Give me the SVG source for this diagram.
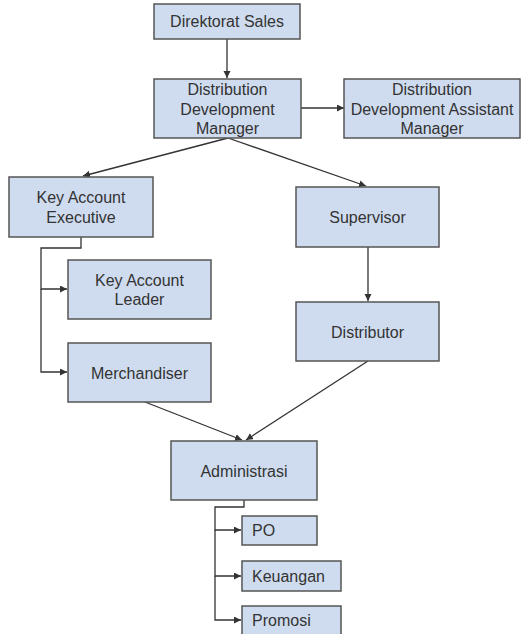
<svg xmlns="http://www.w3.org/2000/svg" width="530" height="634" viewBox="0 0 530 634">
<style>
.box{fill:#cfdcef;stroke:#555;stroke-width:1.5}
.t{font-family:"Liberation Sans",Arial,sans-serif;font-size:16px;fill:#333;text-anchor:middle}
.tl{font-family:"Liberation Sans",Arial,sans-serif;font-size:16px;fill:#333;text-anchor:start}
.c{fill:none;stroke:#333;stroke-width:1.3;marker-end:url(#ah)}
</style>
<defs>
<marker id="ah" markerUnits="userSpaceOnUse" markerWidth="8" markerHeight="8" refX="7" refY="3.5" orient="auto">
<path d="M0,0 L7,3.5 L0,7 z" fill="#333"/>
</marker>
</defs>
<rect width="530" height="634" fill="#fff"/>
<g id="connectors">
<path class="c" d="M227,39 V78"/>
<path class="c" d="M301,108 H344"/>
<path class="c" d="M228,138 L83,176"/>
<path class="c" d="M228,138 L366,186"/>
<path class="c" d="M81,237 V248 H41 V289 H67"/>
<path class="c" d="M41,289 V372 H67"/>
<path class="c" d="M368,247 V301"/>
<path class="c" d="M368,361 L246,440"/>
<path class="c" d="M145,402 L242,440"/>
<path class="c" d="M244,500 V507 H215 V530 H241"/>
<path class="c" d="M215,530 V576 H241"/>
<path class="c" d="M215,576 V620 H241"/>
</g>
<g id="direktorat-sales"><rect class="box" x="154" y="4" width="146" height="35"/><text class="t" x="227" y="27">Direktorat Sales</text></g>
<g id="ddm"><rect class="box" x="154" y="79" width="147" height="59"/><text class="t" x="227.5" y="95">Distribution</text><text class="t" x="227.5" y="114.5">Development</text><text class="t" x="227.5" y="134">Manager</text></g>
<g id="ddam"><rect class="box" x="344" y="79" width="176" height="59"/><text class="t" x="432" y="95">Distribution</text><text class="t" x="432" y="114.5">Development Assistant</text><text class="t" x="432" y="134">Manager</text></g>
<g id="kae"><rect class="box" x="9" y="177" width="144" height="60"/><text class="t" x="81" y="203">Key Account</text><text class="t" x="81" y="222.5">Executive</text></g>
<g id="supervisor"><rect class="box" x="296" y="187" width="143" height="60"/><text class="t" x="367.5" y="222.5">Supervisor</text></g>
<g id="kal"><rect class="box" x="68" y="260" width="143" height="59"/><text class="t" x="139.5" y="285.5">Key Account</text><text class="t" x="139.5" y="305">Leader</text></g>
<g id="distributor"><rect class="box" x="296" y="302" width="143" height="59"/><text class="t" x="367.5" y="337.5">Distributor</text></g>
<g id="merchandiser"><rect class="box" x="68" y="343" width="143" height="59"/><text class="t" x="139.5" y="378.5">Merchandiser</text></g>
<g id="administrasi"><rect class="box" x="171" y="441" width="146" height="59"/><text class="t" x="244" y="476.5">Administrasi</text></g>
<g id="po"><rect class="box" x="242" y="516" width="75" height="29"/><text class="tl" x="252" y="535.5">PO</text></g>
<g id="keuangan"><rect class="box" x="242" y="561" width="99" height="30"/><text class="tl" x="252" y="581.5">Keuangan</text></g>
<g id="promosi"><rect class="box" x="242" y="606" width="99" height="40"/><text class="tl" x="252" y="625.5">Promosi</text></g>
</svg>
